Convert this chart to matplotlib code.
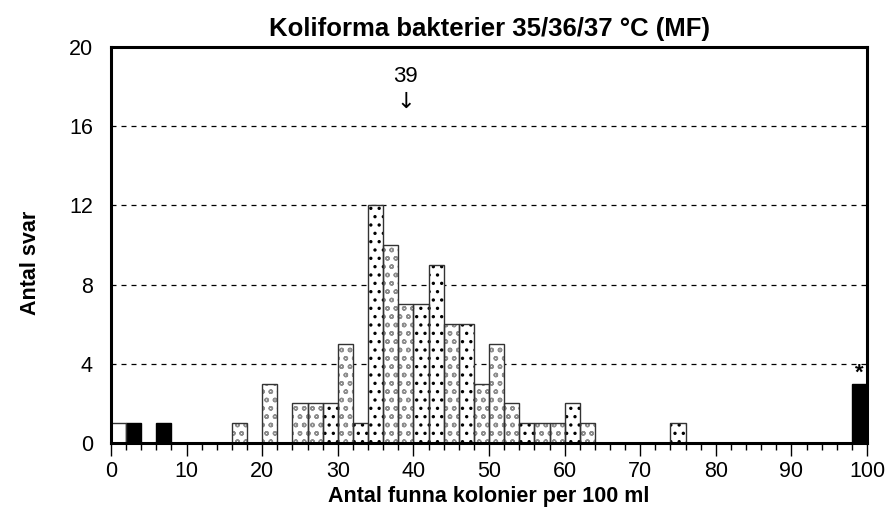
import matplotlib
matplotlib.use('Agg')
import matplotlib.pyplot as plt

plt.rcParams['font.family'] = ['Liberation Sans', 'DejaVu Sans']
plt.rcParams['hatch.linewidth'] = 1.0

# bin left edges (width 2), counts and fill style
bin_left = [0, 2, 6, 16, 20, 24, 26, 28, 30, 32, 34, 36, 38, 40, 42, 44, 46,
            48, 50, 52, 54, 56, 58, 60, 62, 74, 98]
counts = [1, 1, 1, 1, 3, 2, 2, 2, 5, 1, 12, 10, 7, 7, 9, 6, 6,
          3, 5, 2, 1, 1, 1, 2, 1, 1, 3]
style = ['white', 'black', 'black', 'grey', 'grey', 'grey', 'grey', 'sq', 'grey', 'sq',
         'sq', 'grey', 'grey', 'sq', 'sq', 'grey', 'sq',
         'grey', 'grey', 'grey', 'sq', 'grey', 'grey', 'sq', 'grey', 'sq', 'black']
median_val = 39
bin_w = 2

fig = plt.figure(figsize=(8.86, 5.16), dpi=100)
ax = fig.add_axes([0.1253, 0.1415, 0.8533, 0.7674])

for x, h, s in zip(bin_left, counts, style):
    if s == 'black':
        ax.bar(x, h, width=bin_w, align='edge', color='black', edgecolor='black', lw=1, zorder=3)
        continue
    if s == 'grey':
        ax.bar(x, h, width=bin_w, align='edge', color='white', edgecolor='#8e8e8e',
               hatch='oo', lw=0, zorder=3)
    elif s == 'sq':
        with plt.rc_context({'hatch.linewidth': 1.2}):
            ax.bar(x, h, width=bin_w, align='edge', color='white', edgecolor='black',
                   hatch='..', lw=0, zorder=3)
    else:
        ax.bar(x, h, width=bin_w, align='edge', color='white', lw=0, zorder=3)
    ax.bar(x, h, width=bin_w, align='edge', fill=False, edgecolor='#333333', lw=1, zorder=4)

ax.text(99, 3.0, '*', ha='center', va='bottom', fontsize=16, fontweight='bold')
ax.text(median_val, 18.0, str(median_val), ha='center', va='bottom', fontsize=16)
ax.text(median_val, 16.7, '\u2193', ha='center', va='bottom', fontsize=16,
        family=['DejaVu Sans'])

ax.set_xlim(0, 100)
ax.set_ylim(0, 20)
ax.set_xticks(range(0, 101, 10))
ax.set_xticks(range(0, 101, 2), minor=True)
ax.set_yticks(range(0, 21, 4))
ax.tick_params(axis='x', which='major', length=9, width=1, direction='out', labelsize=15.5, pad=4)
ax.tick_params(axis='x', which='minor', length=5, width=1, direction='out')
ax.tick_params(axis='y', length=0, labelsize=15.5, pad=13)
for yv in [4, 8, 12, 16]:
    ax.axhline(yv, color='black', lw=0.9, ls=(0, (4, 4)), zorder=1)
for sp in ax.spines.values():
    sp.set_linewidth(2.2)
    sp.set_zorder(5)

ax.set_title('Koliforma bakterier 35/36/37 \u00b0C (MF)', fontsize=18.5, fontweight='bold', pad=8)
ax.set_xlabel('Antal funna kolonier per 100 ml', fontsize=15.5, fontweight='bold', labelpad=3)
fig.text(0.034, 0.49, 'Antal svar', rotation=90, ha='center', va='center',
         fontsize=15.5, fontweight='bold')

fig.savefig('out.png', dpi=100)
